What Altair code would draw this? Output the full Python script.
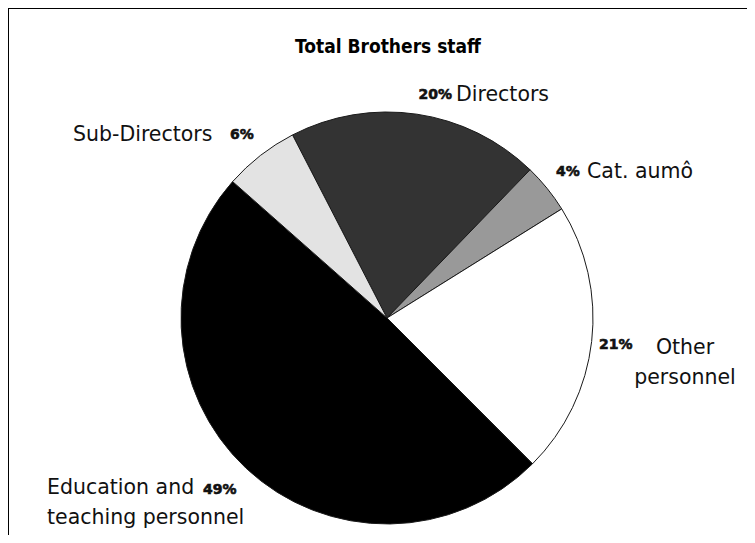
import math
import altair as alt
import pandas as pd

# ---- data, clockwise from the top-left ----
categories = ["Directors", "Cat. aumô", "Other personnel", "Education and teaching personnel", "Sub-Directors"]
values = [19.8, 3.9, 21.4, 49.0, 5.9]
display_names = ["Directors", "Cat. aumô", "Other\npersonnel", "Education and\nteaching personnel", "Sub-Directors"]
fills = ["#333333", "#999999", "#ffffff", "#000000", "#e3e3e3"]

df = pd.DataFrame({"category": categories, "value": values, "order": list(range(len(categories)))})

# ---- layout (chart coordinates, pixels) ----
W, H = 739, 527
CX, CY, R = 379, 310, 206
START = math.radians(-27.3)

LABEL_FONT = "DejaVu Sans"
TITLE_FONT = "DejaVu Sans Condensed, DejaVu Sans, sans-serif"

# label anchors: (x, y, align)
name_pos = [(448, 87, "left"), (579, 164, "left"), (677, 340, "center"), (39, 480, "left"), (65, 127, "left")]
pct_pos = [(444, 87, "right"), (548, 164, "left"), (591, 337, "left"), (195, 482, "left"), (222, 127, "left")]

lab = pd.DataFrame({
    "category": categories,
    "name": display_names,
    "pct": [f"{round(v)}%" for v in values],
    "nx": [p[0] for p in name_pos],
    "ny": [p[1] for p in name_pos],
    "px": [p[0] for p in pct_pos],
    "py": [p[1] for p in pct_pos],
})

color_scale = alt.Scale(domain=categories, range=fills)

pie = alt.Chart(df).mark_arc(outerRadius=R, stroke="#1a1a1a", strokeWidth=1).encode(
    theta=alt.Theta("value:Q", stack=True, scale=alt.Scale(range=[START, START + 2 * math.pi])),
    order=alt.Order("order:Q"),
    color=alt.Color("category:N", scale=color_scale, legend=None),
    x=alt.value(CX),
    y=alt.value(CY),
)

layers = [pie]
for align in ["left", "center", "right"]:
    sub = lab[[n[2] == align for n in name_pos]]
    if len(sub):
        layers.append(
            alt.Chart(sub).mark_text(
                align=align, baseline="middle", font=LABEL_FONT, fontSize=20.5,
                color="#111111", lineBreak="\n", lineHeight=30,
            ).encode(x=alt.X("nx:Q", scale=None), y=alt.Y("ny:Q", scale=None), text="name:N")
        )
    sub2 = lab[[p[2] == align for p in pct_pos]]
    if len(sub2):
        layers.append(
            alt.Chart(sub2).mark_text(
                align=align, baseline="middle", font=LABEL_FONT, fontSize=14,
                fontWeight="bold", color="#111111", stroke="#111111", strokeWidth=0.6,
            ).encode(x=alt.X("px:Q", scale=None), y=alt.Y("py:Q", scale=None), text="pct:N")
        )

title = alt.Chart(pd.DataFrame({"t": ["Total Brothers staff"]})).mark_text(
    align="center", baseline="middle", font=TITLE_FONT, fontSize=19, fontWeight="bold", color="#000000"
).encode(x=alt.value(380), y=alt.value(39), text="t:N")

frame_top = alt.Chart(pd.DataFrame({"a": [0]})).mark_rule(color="#000000", strokeWidth=2).encode(
    x=alt.value(0), x2=alt.value(W), y=alt.value(0)
)
frame_left = alt.Chart(pd.DataFrame({"a": [0]})).mark_rule(color="#000000", strokeWidth=2).encode(
    x=alt.value(0), y=alt.value(0), y2=alt.value(H)
)

chart = alt.layer(*layers, title, frame_top, frame_left).properties(
    width=W, height=H, padding=0, autosize=alt.AutoSizeParams(type="none")
).configure_view(stroke=None).configure(background="#ffffff")

chart.save("out.html", embed_options={"renderer": "svg", "actions": False})
